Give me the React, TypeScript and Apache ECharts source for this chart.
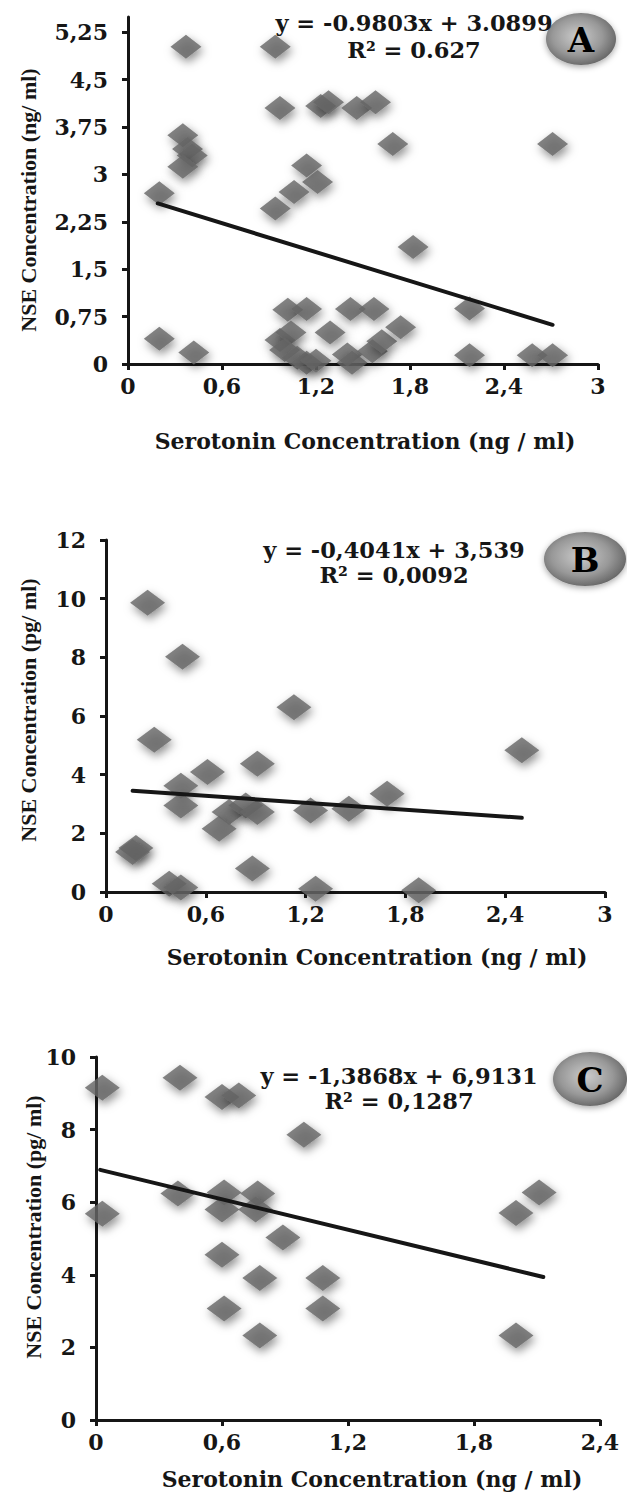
import React, { useEffect, useRef } from "react";
import * as echarts from "echarts";

// ---------- data ----------
const seriesA: number[][] = [
  [0.37, 5.02], [0.94, 5.02],
  [0.97, 4.05], [1.23, 4.08], [1.28, 4.14], [1.46, 4.05], [1.58, 4.14],
  [0.35, 3.62], [0.38, 3.4], [0.41, 3.3], [0.35, 3.12],
  [1.69, 3.48], [2.71, 3.48],
  [1.14, 3.14], [1.21, 2.88], [1.06, 2.72], [0.94, 2.46], [0.2, 2.7],
  [1.82, 1.85],
  [1.02, 0.86], [1.14, 0.87], [1.42, 0.87], [1.57, 0.87], [2.18, 0.88],
  [0.2, 0.4], [0.42, 0.18],
  [0.97, 0.38], [1.04, 0.5], [1.0, 0.22], [1.08, 0.1], [1.14, 0.02], [1.2, 0.05],
  [1.29, 0.5], [1.4, 0.15], [1.43, 0.02], [1.56, 0.2], [1.62, 0.36], [1.74, 0.58],
  [2.18, 0.14], [2.58, 0.14], [2.71, 0.14],
];
const trendA: number[][] = [[0.19, 2.54], [2.71, 0.62]];

const seriesB: number[][] = [
  [0.25, 9.86], [0.46, 8.02], [1.13, 6.3], [0.29, 5.19], [2.5, 4.83],
  [0.91, 4.37], [0.61, 4.09], [0.45, 3.62], [0.45, 2.95], [1.69, 3.35],
  [0.74, 2.73], [0.68, 2.16], [0.84, 2.95], [0.91, 2.73], [1.23, 2.78],
  [1.46, 2.84], [0.18, 1.5], [0.16, 1.36], [0.88, 0.8], [0.38, 0.28],
  [0.45, 0.15], [1.26, 0.11], [1.88, 0.06],
];
const trendB: number[][] = [[0.16, 3.45], [2.5, 2.53]];

const seriesC: number[][] = [
  [0.03, 9.15], [0.4, 9.43], [0.6, 8.9], [0.68, 8.94], [0.99, 7.86],
  [0.39, 6.24], [0.61, 6.27], [0.77, 6.24], [2.11, 6.27], [0.03, 5.68],
  [0.6, 5.8], [0.76, 5.8], [2.0, 5.7], [0.89, 5.03], [0.6, 4.55],
  [0.78, 3.91], [1.08, 3.91], [0.61, 3.07], [1.08, 3.07], [0.78, 2.33],
  [2.0, 2.33],
];
const trendC: number[][] = [[0.02, 6.89], [2.13, 3.94]];

const yTicksA = [0, 0.75, 1.5, 2.25, 3, 3.75, 4.5, 5.25];
const xTicksAB = [0, 0.6, 1.2, 1.8, 2.4, 3];
const xTicksC = [0, 0.6, 1.2, 1.8, 2.4];

const eqA = ["y = -0.9803x + 3.0899", "R² = 0.627"];
const eqB = ["y = -0,4041x + 3,539", "R² = 0,0092"];
const eqC = ["y = -1,3868x + 6,9131", "R² = 0,1287"];
const xTitle = "Serotonin Concentration (ng / ml)";
const yTitleA = "NSE Concentration (ng/ ml)";
const yTitleBC = "NSE Concentration (pg/ ml)";

// ---------- styling ----------
const INK = "#161616";
const SERIF_W = '"DejaVu Serif", serif';
const SERIF_N = '"Liberation Serif", "Times New Roman", serif';
const fmt = (v: number) => String(Math.round(v * 100) / 100).replace(".", ",");

const axisCommon = {
  axisLine: { show: true, onZero: false, lineStyle: { color: INK, width: 3 } },
  axisTick: { show: true, inside: false, length: 6, lineStyle: { color: INK, width: 3 } },
  splitLine: { show: false },
};
const labelFont = { color: INK, fontFamily: SERIF_W, fontWeight: "bold" as const, fontSize: 22 };

function xAxis(grid: number, max: number, ticks: number[]) {
  return {
    type: "value", gridIndex: grid, min: 0, max, interval: 0.6,
    ...axisCommon,
    axisTick: { ...axisCommon.axisTick, customValues: ticks },
    axisLabel: { ...labelFont, margin: 11, formatter: fmt, customValues: ticks },
  };
}
function yAxis(grid: number, max: number, interval: number, ticks?: number[]) {
  const a: any = {
    type: "value", gridIndex: grid, min: 0, max, interval,
    ...axisCommon,
    axisLabel: { ...labelFont, margin: 20, formatter: fmt },
  };
  if (ticks) {
    a.axisTick = { ...axisCommon.axisTick, customValues: ticks };
    a.axisLabel.customValues = ticks;
  }
  return a;
}

const scatter = (i: number, data: number[][], size: number[]) => ({
  type: "scatter", xAxisIndex: i, yAxisIndex: i, data, symbol: "diamond", symbolSize: size,
  clip: false, z: 3, silent: true,
  itemStyle: { color: "#666666", shadowBlur: 10, shadowColor: "rgba(0,0,0,0.55)", shadowOffsetX: 2, shadowOffsetY: 4 },
});
const trend = (i: number, data: number[][]) => ({
  type: "line", xAxisIndex: i, yAxisIndex: i, data, symbol: "none", z: 5, silent: true, clip: false,
  lineStyle: { color: INK, width: 4, cap: "round" },
});

function badge(cx: number, cy: number, rx: number, ry: number, letter: string) {
  return [
    {
      type: "ellipse", shape: { cx, cy, rx, ry }, z: 10,
      style: {
        fill: new echarts.graphic.RadialGradient(0.45, 0.45, 0.65, [
          { offset: 0, color: "#cccccc" },
          { offset: 0.55, color: "#989898" },
          { offset: 1, color: "#555555" },
        ]),
        shadowBlur: 6, shadowColor: "rgba(0,0,0,0.35)", shadowOffsetY: 2,
      },
    },
    {
      type: "text", x: cx, y: cy + 1, z: 11,
      style: { text: letter, fill: "#000", font: `bold 34px ${SERIF_W}`, align: "center", verticalAlign: "middle" },
    },
  ];
}
function eq(cx: number, y1: number, y2: number, lines: string[]) {
  return lines.map((t, k) => ({
    type: "text", x: cx, y: k === 0 ? y1 : y2, z: 10,
    style: { text: t, fill: INK, font: `bold 22.5px ${SERIF_W}`, align: "center", verticalAlign: "middle" },
  }));
}
function xt(cx: number, cy: number) {
  return {
    type: "text", x: cx, y: cy, z: 10,
    style: { text: xTitle, fill: INK, font: `bold 22px ${SERIF_W}`, align: "center", verticalAlign: "middle" },
  };
}
function yt(cx: number, cy: number, t: string) {
  return {
    type: "text", x: cx, y: cy, rotation: Math.PI / 2, z: 10,
    style: { text: t, fill: INK, font: `bold 22px ${SERIF_N}`, align: "center", verticalAlign: "middle" },
  };
}

export default function App() {
  const ref = useRef<HTMLDivElement>(null);
  useEffect(() => {
    if (!ref.current) return;
    const chart = echarts.init(ref.current, undefined, { renderer: "svg" });
    chart.setOption({
      animation: false,
      backgroundColor: "#ffffff",
      grid: [
        { left: 128, right: 29, top: 17, bottom: 1135 },
        { left: 106, right: 22, top: 540, bottom: 607 },
        { left: 96, right: 27, top: 1057, bottom: 79 },
      ],
      xAxis: [xAxis(0, 3, xTicksAB), xAxis(1, 3, xTicksAB), xAxis(2, 2.4, xTicksC)],
      yAxis: [yAxis(0, 5.49, 0.75, yTicksA), yAxis(1, 12, 2), yAxis(2, 10, 2)],
      series: [
        scatter(0, seriesA, [31, 24]), trend(0, trendA),
        scatter(1, seriesB, [35, 26]), trend(1, trendB),
        scatter(2, seriesC, [35, 26]), trend(2, trendC),
      ],
      graphic: [
        ...badge(581, 39, 35, 26, "A"),
        ...badge(585, 559, 41, 27, "B"),
        ...badge(590, 1079, 37, 27, "C"),
        ...eq(414, 23, 50, eqA),
        ...eq(394, 550, 575, eqB),
        ...eq(399, 1076, 1101, eqC),
        xt(365, 441), xt(377, 957), xt(372, 1479),
        yt(28, 200, yTitleA), yt(28, 710, yTitleBC), yt(33, 1227, yTitleBC),
      ],
    });
    return () => chart.dispose();
  }, []);
  return (
    <div
      ref={ref}
      style={{ position: "absolute", left: 0, top: 0, width: 627, height: 1499 }}
    />
  );
}
